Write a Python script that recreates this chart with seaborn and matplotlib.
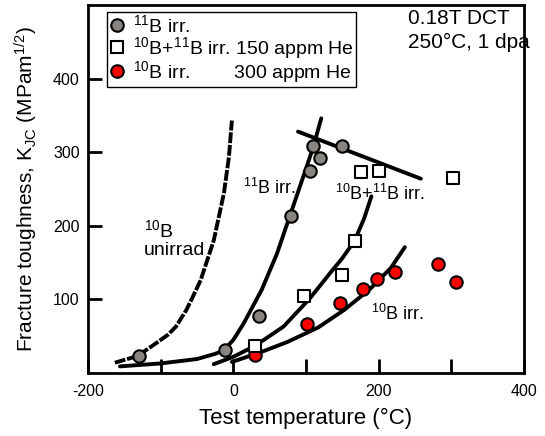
import matplotlib
matplotlib.use('Agg')
import matplotlib.pyplot as plt
import seaborn as sns
from matplotlib.ticker import MultipleLocator, FuncFormatter
from matplotlib.lines import Line2D

# Measured K_JC values (test temperature in C, K_JC in MPa m^1/2)
b11_temp = [-130, -12, 35, 80, 105, 109, 119, 149]
b11_kjc = [23, 31, 77, 213, 274, 308, 292, 308]
mix_temp = [30, 97, 149, 167, 176, 200, 302]
mix_kjc = [37, 105, 133, 180, 273, 275, 265]
b10_temp = [30, 101, 147, 179, 198, 222, 282, 307]
b10_kjc = [24, 67, 95, 114, 128, 137, 148, 123]

# Trend curves drawn on the original figure
unirr_curve_t = [-163, -132, -107, -90, -79, -65, -57, -45, -27, -13, -6, -2]
unirr_curve_k = [14, 23, 40, 52, 63, 85, 101, 126, 180, 244, 294, 343]
b11_curve_t = [-156, -100, -50, -25, -13, 0, 14, 39, 60, 78, 96, 110, 121]
b11_curve_k = [9, 13, 19, 26, 31, 45, 67, 113, 162, 214, 266, 307, 346]
b11_upper_t = [89, 258]
b11_upper_k = [328, 264]
mix_curve_t = [-27, 0, 30, 69, 105, 135, 150, 167, 180, 190]
mix_curve_k = [12, 22, 37, 63, 101, 138, 156, 180, 210, 240]
b10_curve_t = [-2, 37, 74, 117, 153, 188, 217, 236]
b10_curve_k = [15, 28, 42, 62, 86, 114, 143, 171]

grey = '#88847f'
red = '#ff0000'

sns.set_style('ticks', {'axes.edgecolor': 'black', 'xtick.color': 'black',
                        'ytick.color': 'black', 'text.color': 'black',
                        'axes.labelcolor': 'black'})
plt.rcParams['font.family'] = ['Liberation Sans', 'DejaVu Sans']
plt.rcParams['mathtext.default'] = 'regular'

fig = plt.figure(figsize=(5.45, 4.36), dpi=100)
ax = fig.add_axes([88 / 545, 1 - 373 / 436, 436 / 545, 368 / 436])

# curves
sns.lineplot(x=unirr_curve_t, y=unirr_curve_k, sort=False, estimator=None,
             color='black', lw=2.8, linestyle=(0, (2.8, 0.45)), ax=ax)
for t, k in [(b11_curve_t, b11_curve_k), (b11_upper_t, b11_upper_k),
             (mix_curve_t, mix_curve_k), (b10_curve_t, b10_curve_k)]:
    sns.lineplot(x=t, y=k, sort=False, estimator=None, color='black',
                 lw=2.8, ax=ax)

# data points
sns.scatterplot(x=b10_temp, y=b10_kjc, marker='o', s=80, color=red,
                edgecolor='black', linewidth=1.5, zorder=5, ax=ax)
sns.scatterplot(x=mix_temp, y=mix_kjc, marker='s', s=85, color='white',
                edgecolor='black', linewidth=1.5, zorder=6, ax=ax)
sns.scatterplot(x=b11_temp, y=b11_kjc, marker='o', s=80, color=grey,
                edgecolor='black', linewidth=1.5, zorder=7, ax=ax)

ax.set_xlim(-200, 400)
ax.set_ylim(0, 500)
ax.xaxis.set_major_locator(MultipleLocator(100))
ax.xaxis.set_major_formatter(FuncFormatter(lambda v, p: f'{v:.0f}' if v % 200 == 0 else ''))
ax.set_yticks([100, 200, 300, 400])
ax.tick_params(direction='in', length=10, width=2, labelsize=11.5)
ax.tick_params(axis='x', pad=8)
ax.tick_params(axis='y', pad=6)
for s in ax.spines.values():
    s.set_linewidth(2)
    s.set_visible(True)

ax.set_xlabel('Test temperature (°C)', fontsize=16, labelpad=6)
ax.set_ylabel('Fracture toughness, K$_{JC}$ (MPam$^{1/2}$)', fontsize=15, labelpad=9)

# legend
handles = [
    Line2D([], [], marker='o', ls='', ms=9, mfc=grey, mec='black', mew=1.5),
    Line2D([], [], marker='s', ls='', ms=9, mfc='white', mec='black', mew=1.5),
    Line2D([], [], marker='o', ls='', ms=9, mfc=red, mec='black', mew=1.5),
]
labels = ['$^{11}$B irr.',
          '$^{10}$B+$^{11}$B irr. 150 appm He',
          '$^{10}$B irr.        300 appm He']
leg = ax.legend(handles, labels, loc='upper left', bbox_to_anchor=(0.044, 0.981),
                borderaxespad=0, fontsize=14, handlelength=0.8, handletextpad=0.4,
                borderpad=0.12, labelspacing=-0.08, fancybox=False, framealpha=1,
                edgecolor='black')
leg.get_frame().set_linewidth(1)

# annotations
ax.text(240, 482, '0.18T DCT', fontsize=15, va='center')
ax.text(240, 449, '250°C, 1 dpa', fontsize=15, va='center')
ax.text(13, 252, '$^{11}$B irr.', fontsize=13, va='center')
ax.text(-123, 194, '$^{10}$B', fontsize=14, va='center')
ax.text(-123, 167, 'unirrad', fontsize=14, va='center')
ax.text(140, 243, '$^{10}$B+$^{11}$B irr.', fontsize=13, va='center')
ax.text(190, 80, '$^{10}$B irr.', fontsize=13, va='center')

fig.savefig('out.png', dpi=100)
